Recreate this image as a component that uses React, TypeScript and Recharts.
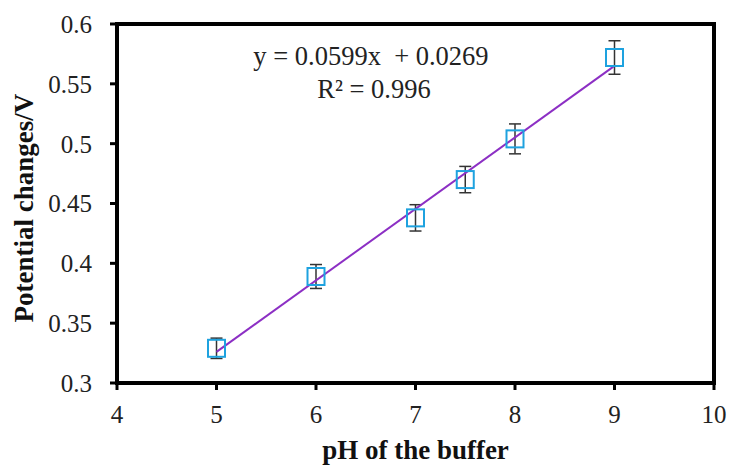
import { ComposedChart, Scatter, Line, XAxis, YAxis, ErrorBar, ReferenceArea, Customized } from "recharts";

const phValues = [5, 6, 7, 7.5, 8, 9];
const potentialValues = [0.329, 0.389, 0.438, 0.47, 0.504, 0.572];
const errorValues = [0.0085, 0.01, 0.011, 0.011, 0.0125, 0.014];
const fitX = [5, 9];
const fitY = [0.326, 0.565];
const xTicks = [4, 5, 6, 7, 8, 9, 10];
const yTicks = [0.3, 0.35, 0.4, 0.45, 0.5, 0.55, 0.6];
const equationText = "y = 0.0599x  + 0.0269";
const rSquaredText = "R² = 0.996";

const FONT = '"Liberation Serif", "Times New Roman", serif';
const MARKER = "#1ea2df";
const FIT = "#8c2fc4";

const points = phValues.map((x, i) => ({ x, y: potentialValues[i], err: errorValues[i] }));
const fitData = fitX.map((x, i) => ({ x, fit: fitY[i] }));

const SquareMarker = (props: any) => {
  const { cx, cy } = props;
  if (cx == null || cy == null) return null;
  return (
    <rect x={cx - 8.5} y={cy - 8.5} width={17} height={17} fill="none" stroke={MARKER} strokeWidth={2} />
  );
};

const Equation = () => (
  <g fontFamily={FONT} fontSize={26.5} fill="#222" textAnchor="middle">
    <text x={371} y={65} style={{ whiteSpace: "pre" }}>{equationText}</text>
    <text x={374} y={98}>{rSquaredText}</text>
  </g>
);

const YTitle = () => (
  <text
    x={24}
    y={208}
    transform="rotate(-90 24 208)"
    textAnchor="middle"
    dominantBaseline="central"
    fontFamily={FONT}
    fontSize={27}
    fontWeight="bold"
    fill="#111"
  >
    Potential changes/V
  </text>
);

const App = () => {
  return (
    <div style={{ position: "absolute", left: 0, top: 0, background: "#fff" }}>
      <ComposedChart width={731} height={465} margin={{ top: 24, right: 17, left: 0, bottom: 0 }}>
        <XAxis
          type="number"
          dataKey="x"
          domain={[4, 10]}
          ticks={xTicks}
          allowDataOverflow
          height={82}
          axisLine={false}
          tickLine={{ stroke: "#000", strokeWidth: 3 }}
          tickSize={7}
          tickMargin={15}
          tick={{ fontFamily: FONT, fontSize: 25, fill: "#222" }}
          label={{
            value: "pH of the buffer",
            position: "insideBottom",
            offset: 6,
            style: { fontFamily: FONT, fontSize: 27, fontWeight: "bold", fill: "#111" },
          }}
        />
        <YAxis
          type="number"
          domain={[0.3, 0.6]}
          ticks={yTicks}
          allowDataOverflow
          width={117}
          axisLine={false}
          tickLine={{ stroke: "#000", strokeWidth: 3 }}
          tickSize={7}
          tickMargin={18}
          tickFormatter={(v: number) => String(v)}
          tick={{ fontFamily: FONT, fontSize: 25, fill: "#222" }}
          label={{ content: () => <YTitle /> }}
        />
        <ReferenceArea
          x1={4}
          x2={10}
          y1={0.3}
          y2={0.6}
          fill="none"
          fillOpacity={0}
          stroke="#000"
          strokeWidth={4}
          ifOverflow="visible"
        />
        <Scatter data={points} dataKey="y" shape={<SquareMarker />} isAnimationActive={false}>
          <ErrorBar dataKey="err" direction="y" width={6} stroke="#333" strokeWidth={1.5} />
        </Scatter>
        <Line
          data={fitData}
          dataKey="fit"
          type="linear"
          dot={false}
          activeDot={false}
          stroke={FIT}
          strokeWidth={2}
          isAnimationActive={false}
        />
        <Customized component={<Equation />} />
      </ComposedChart>
    </div>
  );
};

export default App;
